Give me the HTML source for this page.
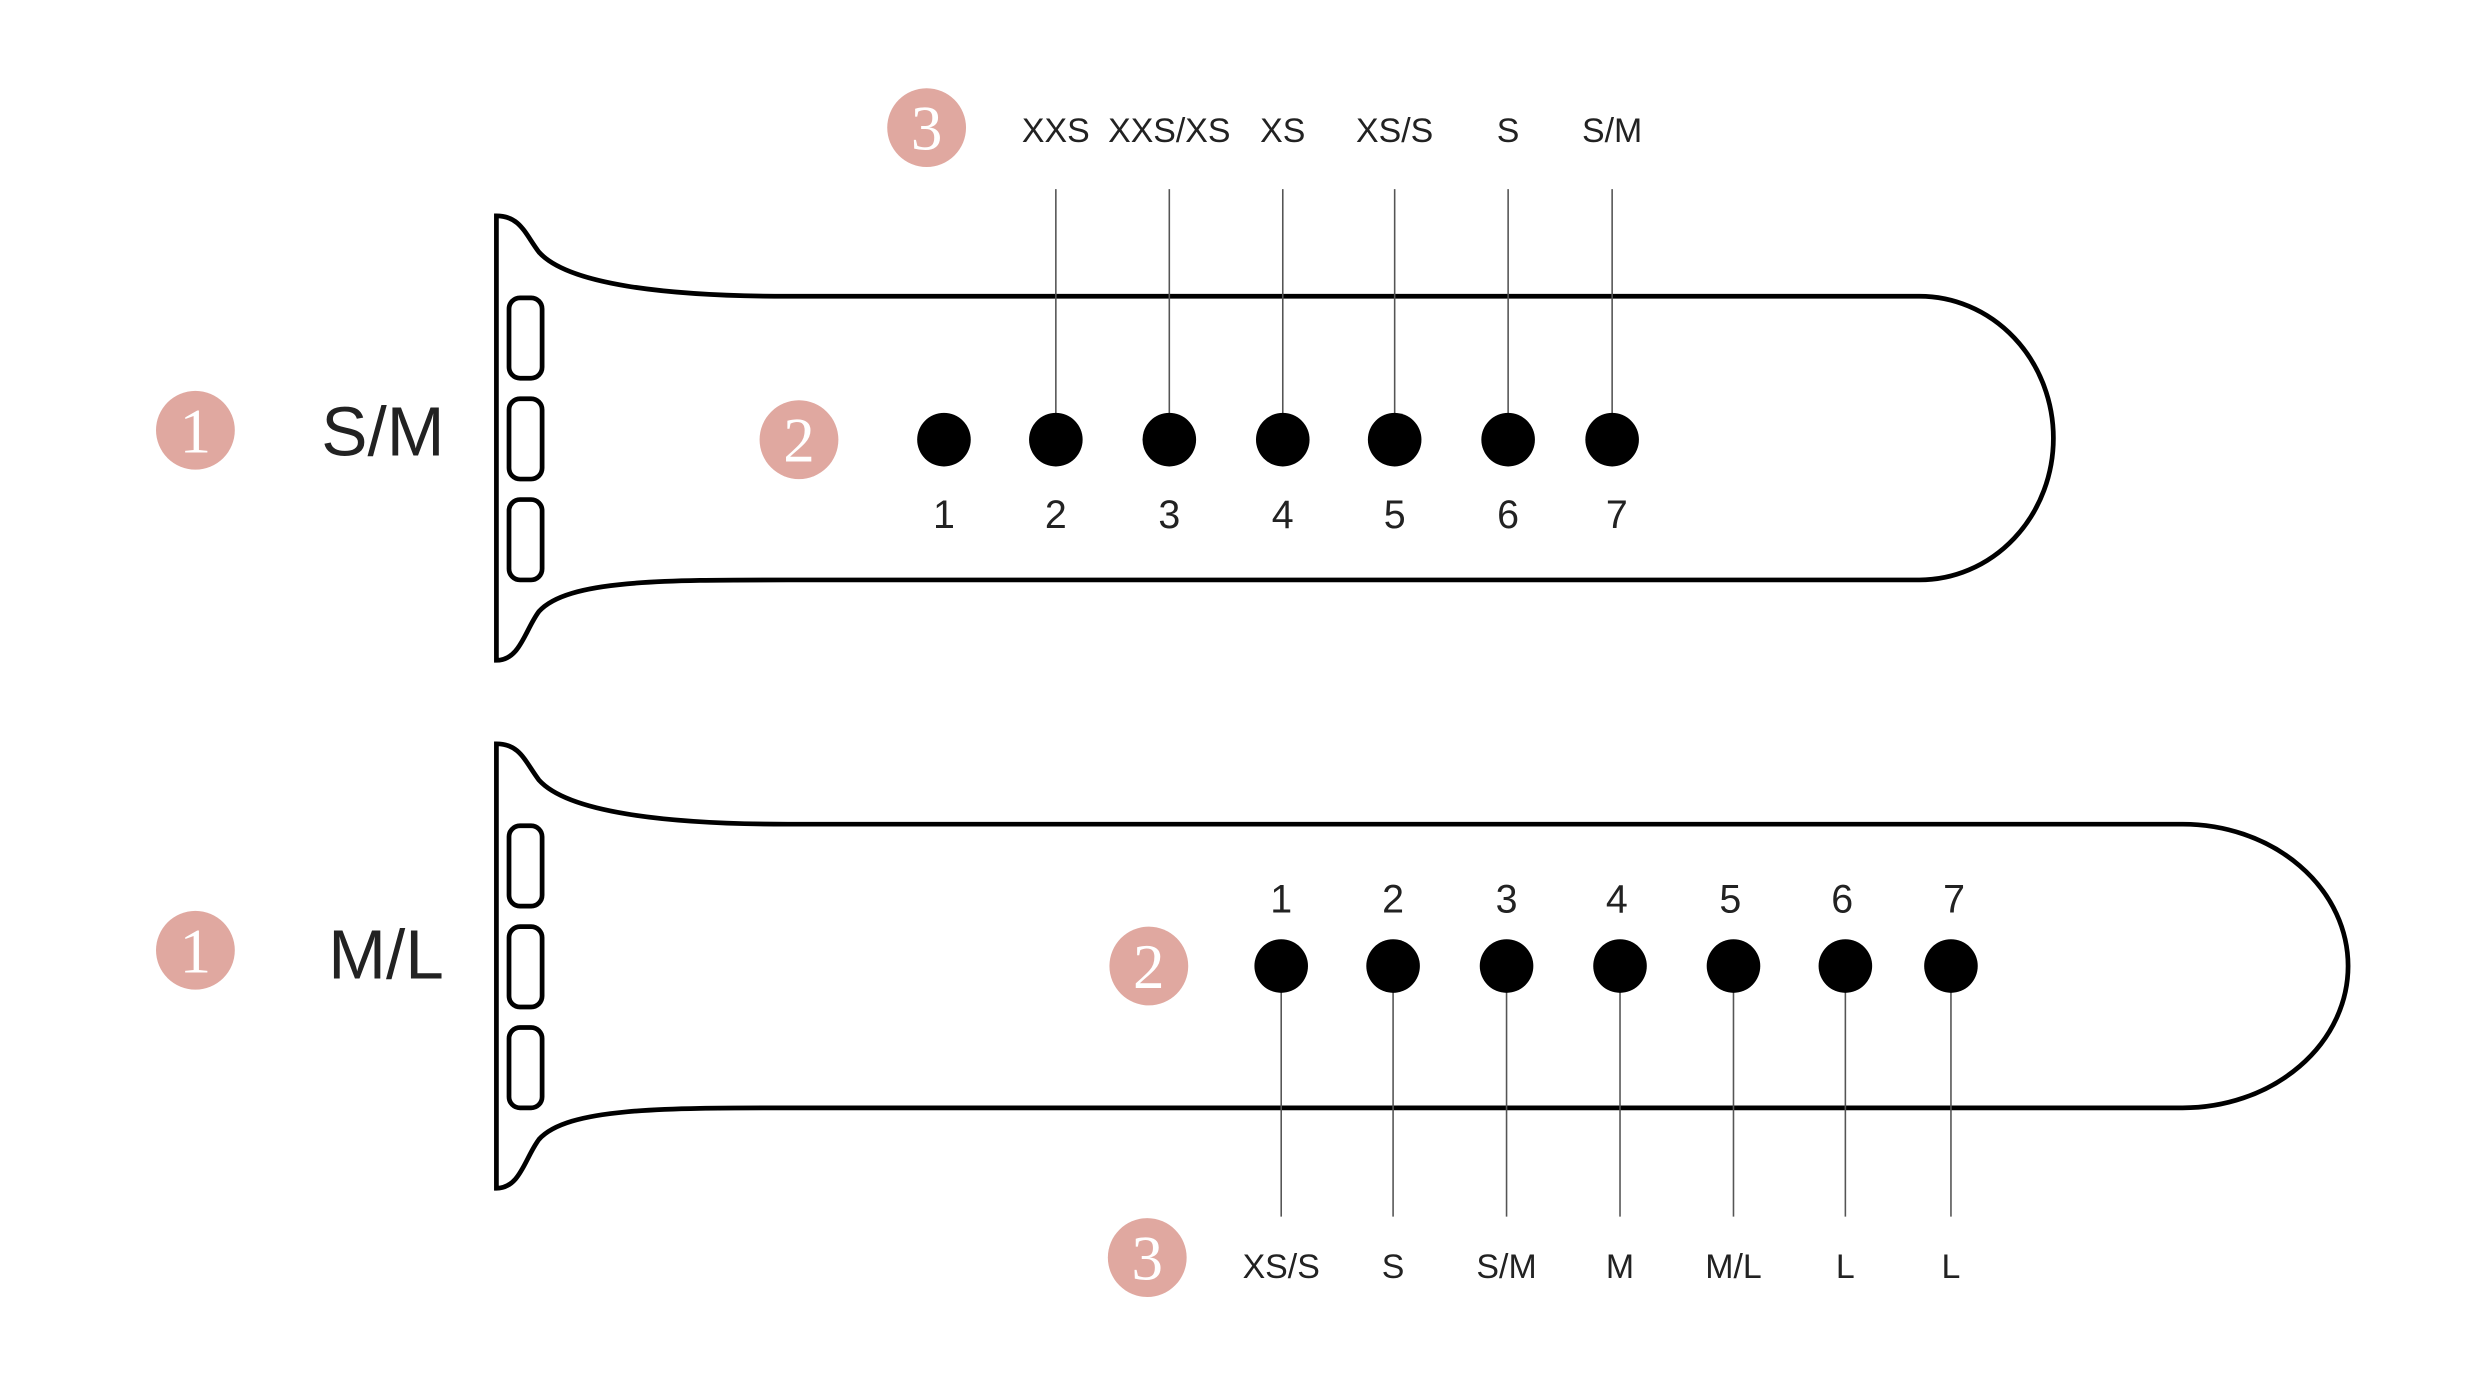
<!DOCTYPE html>
<html><head><meta charset="utf-8"><style>
html,body{margin:0;padding:0;background:#fff;}
svg{display:block;}
text{font-family:"Liberation Sans",sans-serif;fill:#222;}
.n{font-family:"Liberation Serif",serif;fill:#fff;font-size:40px;text-anchor:middle;}
.l{font-size:21.5px;text-anchor:middle;}
.d{font-size:25px;text-anchor:middle;}
</style></head><body>
<svg width="2471" height="1386" viewBox="0 0 1568 879.5" preserveAspectRatio="none" xmlns="http://www.w3.org/2000/svg">
<g fill="none" stroke="#000" stroke-width="3">
<path d="M315,137 L315,419 C330,419 333,400 342,388 C360,368 420,368 500,368 L1218,368 A85,90 0 0 0 1218,188 L500,188 C420,188 360,180 342,160 C333,148 330,137 315,137 Z"/>
<rect x="323" y="189" width="21" height="51" rx="7"/>
<rect x="323" y="253" width="21" height="51" rx="7"/>
<rect x="323" y="317" width="21" height="51" rx="7"/>
<path d="M315,472 L315,754 C330,754 333,735 342,723 C360,703 420,703 500,703 L1385,703 A105,90 0 0 0 1385,523 L500,523 C420,523 360,515 342,495 C333,483 330,472 315,472 Z"/>
<rect x="323" y="524" width="21" height="51" rx="7"/>
<rect x="323" y="588" width="21" height="51" rx="7"/>
<rect x="323" y="652" width="21" height="51" rx="7"/>
</g>
<g stroke="#555" stroke-width="1">
<path d="M670,120V279M742,120V279M814,120V279M885,120V279M957,120V279M1023,120V279"/>
<path d="M813,613V772M884,613V772M956,613V772M1028,613V772M1100,613V772M1171,613V772M1238,613V772"/>
</g>
<g fill="#000">
<circle cx="599" cy="279" r="17"/><circle cx="670" cy="279" r="17"/><circle cx="742" cy="279" r="17"/><circle cx="814" cy="279" r="17"/><circle cx="885" cy="279" r="17"/><circle cx="957" cy="279" r="17"/><circle cx="1023" cy="279" r="17"/>
<circle cx="813" cy="613" r="17"/><circle cx="884" cy="613" r="17"/><circle cx="956" cy="613" r="17"/><circle cx="1028" cy="613" r="17"/><circle cx="1100" cy="613" r="17"/><circle cx="1171" cy="613" r="17"/><circle cx="1238" cy="613" r="17"/>
</g>
<g fill="#e0a8a0">
<circle cx="124" cy="273" r="25"/><circle cx="507" cy="279" r="25"/><circle cx="588" cy="81" r="25"/>
<circle cx="124" cy="603" r="25"/><circle cx="729" cy="613" r="25"/><circle cx="728" cy="798" r="25"/>
</g>
<text class="n" x="124" y="287">1</text><text class="n" x="507" y="293">2</text><text class="n" x="588" y="95">3</text>
<text class="n" x="124" y="617">1</text><text class="n" x="729" y="627">2</text><text class="n" x="728" y="812">3</text>
<text x="243" y="289" style="font-size:44px;text-anchor:middle">S/M</text>
<text x="245" y="621" style="font-size:44px;text-anchor:middle">M/L</text>
<text class="l" x="670" y="90">XXS</text><text class="l" x="742" y="90">XXS/XS</text><text class="l" x="814" y="90">XS</text><text class="l" x="885" y="90">XS/S</text><text class="l" x="957" y="90">S</text><text class="l" x="1023" y="90">S/M</text>
<text class="l" x="813" y="811">XS/S</text><text class="l" x="884" y="811">S</text><text class="l" x="956" y="811">S/M</text><text class="l" x="1028" y="811">M</text><text class="l" x="1100" y="811">M/L</text><text class="l" x="1171" y="811">L</text><text class="l" x="1238" y="811">L</text>
<text class="d" x="599" y="335">1</text><text class="d" x="670" y="335">2</text><text class="d" x="742" y="335">3</text><text class="d" x="814" y="335">4</text><text class="d" x="885" y="335">5</text><text class="d" x="957" y="335">6</text><text class="d" x="1026" y="335">7</text>
<text class="d" x="813" y="579">1</text><text class="d" x="884" y="579">2</text><text class="d" x="956" y="579">3</text><text class="d" x="1026" y="579">4</text><text class="d" x="1098" y="579">5</text><text class="d" x="1169" y="579">6</text><text class="d" x="1240" y="579">7</text>
</svg>
</body></html>
